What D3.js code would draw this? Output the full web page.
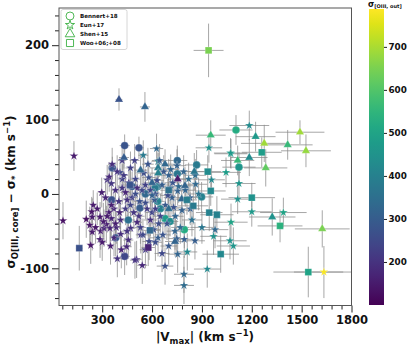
<!DOCTYPE html>
<html>
<head>
<meta charset="utf-8">
<script src="https://cdn.jsdelivr.net/npm/d3@7"></script>
<style>
body { margin: 0; background: #fff; }
text { font-family: "DejaVu Sans", sans-serif; font-weight: bold; fill: #111; }
</style>
</head>
<body>
<svg id="chart" width="407" height="346"></svg>
<script>
// each row: [|Vmax|, sigma_core - sigma_star, err on Vmax, err on dsigma, sigma_out]
var bennert = [
  [435, 65, 30, 15, 280], [521, 62, 30, 15, 280], [361, 35, 25, 15, 280],
  [752, 45, 60, 20, 330], [868, 39, 70, 20, 380], [1105, 86, 100, 20, 520],
  [1123, 36, 100, 20, 460], [752, 27, 60, 20, 370], [898, -4, 70, 20, 400],
  [634, 10, 50, 20, 380], [634, -10, 50, 20, 400], [794, -48, 60, 25, 520],
  [678, -33, 50, 20, 480], [708, -37, 50, 20, 430], [435, -84, 30, 25, 250],
  [381, -59, 30, 25, 280], [357, -8, 30, 25, 270], [457, -35, 40, 25, 350],
  [527, -19, 40, 25, 300], [618, 8, 50, 20, 380], [560, 0, 40, 20, 330],
  [480, 10, 40, 20, 300], [650, -20, 50, 20, 400]
];
var eun = [
  [130, 51, 10, 20, 150], [547, 52, 30, 20, 380], [407, 29, 25, 20, 250],
  [421, 20, 25, 20, 230], [330, 19, 20, 20, 200], [355, 14, 20, 20, 210],
  [627, 61, 40, 20, 330], [636, 44, 40, 20, 400], [712, 33, 50, 20, 320],
  [1185, 92, 120, 20, 430], [942, 62, 80, 20, 450], [1075, 54, 100, 20, 470],
  [1045, 29, 90, 20, 480], [1123, 14, 100, 20, 460], [1115, -7, 100, 20, 450],
  [1200, -24, 120, 20, 470], [958, 19, 80, 20, 420], [862, 13, 70, 20, 330],
  [754, 4, 60, 20, 310], [828, -5, 70, 20, 300], [794, -61, 60, 25, 300],
  [858, -63, 60, 25, 300], [812, -78, 60, 25, 420], [754, -81, 60, 25, 320],
  [678, -97, 50, 25, 270], [932, -101, 80, 25, 420], [792, -108, 60, 25, 330],
  [792, -123, 60, 25, 340], [979, -48, 80, 25, 330], [970, -57, 80, 25, 450],
  [1075, -38, 100, 25, 500], [1069, -63, 100, 25, 450], [1089, -70, 100, 25, 460],
  [738, -50, 50, 25, 320], [636, -59, 50, 25, 300], [1390, -25, 140, 20, 500],
  [1634, -105, 180, 35, 780], [64, -36, 10, 25, 130], [204, -34, 15, 25, 130],
  [240, -31, 15, 25, 150], [225, -42, 15, 25, 140], [240, -51, 15, 25, 150],
  [231, -69, 15, 25, 140], [287, -61, 20, 25, 160], [291, -50, 20, 25, 160],
  [311, -46, 20, 25, 170], [325, -41, 20, 25, 160], [307, -37, 20, 25, 150],
  [355, -33, 20, 25, 170], [371, -59, 25, 25, 180], [391, -87, 25, 25, 200],
  [507, -88, 30, 25, 200], [541, -96, 30, 25, 180], [457, -62, 30, 25, 190],
  [447, -71, 30, 25, 180], [411, -54, 25, 25, 190], [532, -55, 30, 25, 220],
  [582, -64, 40, 25, 250], [471, -46, 30, 25, 200], [342, 23, 20, 20, 180],
  [297, 2, 20, 20, 160], [246, -15, 15, 20, 150], [237, -24, 15, 20, 140],
  [287, -31, 20, 20, 150], [347, -46, 20, 25, 170], [497, -89, 30, 25, 200],
  [748, -60, 50, 25, 300], [1072, 55, 100, 20, 470],
  [380, 5, 25, 22, 190], [400, -10, 25, 22, 200], [420, 8, 25, 22, 210],
  [440, -20, 30, 22, 220], [460, 15, 30, 22, 200], [480, -5, 30, 22, 230],
  [500, 20, 30, 22, 240], [520, -30, 35, 22, 210], [540, 5, 35, 22, 250],
  [560, -12, 35, 22, 260], [580, 22, 40, 22, 270], [600, -25, 40, 22, 240],
  [620, 0, 40, 22, 280], [640, -40, 45, 22, 260], [660, 12, 45, 22, 300],
  [680, -15, 45, 22, 290], [700, 25, 50, 22, 310], [720, -5, 50, 22, 300],
  [740, -30, 50, 22, 320], [760, 10, 55, 22, 330], [780, -22, 55, 22, 310],
  [820, 20, 60, 22, 340], [840, -35, 60, 22, 350], [880, 0, 65, 22, 360],
  [900, -45, 70, 22, 370], [370, -20, 25, 22, 180], [390, 30, 25, 22, 200],
  [410, -35, 25, 22, 190], [430, 25, 25, 22, 220], [450, -8, 30, 22, 200],
  [470, 35, 30, 22, 230], [490, -25, 30, 22, 210], [510, 8, 30, 22, 190],
  [530, -45, 35, 22, 230], [550, 28, 35, 22, 260], [570, -20, 35, 22, 220],
  [590, 5, 40, 22, 250], [610, -48, 40, 22, 280], [630, 18, 40, 22, 260],
  [650, -30, 45, 22, 240], [670, 30, 45, 22, 290], [690, -40, 45, 22, 280],
  [710, 8, 50, 22, 300], [730, -18, 50, 22, 270], [750, 38, 55, 22, 310],
  [770, -45, 55, 22, 330], [800, 5, 60, 22, 320], [830, -20, 60, 22, 300],
  [860, 25, 65, 22, 340], [320, -5, 20, 22, 170], [340, -25, 20, 22, 160],
  [360, 40, 25, 22, 190], [385, -45, 25, 22, 180], [420, 45, 25, 22, 220],
  [450, -50, 30, 22, 200], [495, 45, 30, 22, 230], [525, -10, 35, 22, 270],
  [545, -55, 35, 22, 250], [575, 40, 35, 22, 280], [615, -8, 40, 22, 290],
  [645, 45, 45, 22, 300], [665, -55, 45, 22, 280], [695, -2, 45, 22, 260],
  [725, 15, 50, 22, 280], [790, 30, 55, 22, 320], [470, -15, 30, 22, 240],
  [500, 0, 30, 22, 260], [560, 12, 35, 22, 230], [600, -2, 40, 22, 310],
  [440, 2, 30, 22, 170], [510, -38, 30, 22, 180], [590, -35, 40, 22, 200],
  [620, -20, 40, 22, 230], [405, -25, 25, 22, 170], [355, -15, 20, 22, 160],
  [330, -30, 20, 22, 150], [270, -20, 20, 22, 150], [260, -45, 15, 22, 140],
  [300, -65, 20, 25, 150], [350, -70, 20, 25, 160], [415, -75, 25, 25, 170],
  [380, -40, 25, 22, 160], [560, -75, 35, 25, 220], [620, -65, 40, 25, 260],
  [660, -80, 45, 25, 250], [700, -70, 50, 25, 290]
];
var shen = [
  [401, 127, 20, 15, 280], [557, 117, 30, 20, 320], [431, 49, 30, 15, 300],
  [531, 32, 40, 20, 330], [636, 35, 50, 20, 380], [953, 79, 90, 20, 560],
  [1115, 45, 100, 20, 560], [1185, 49, 110, 25, 430], [854, 30, 80, 25, 370],
  [754, 20, 60, 20, 150], [678, 40, 60, 20, 330], [798, 11, 60, 25, 320],
  [778, -7, 60, 20, 330], [738, -64, 60, 20, 320], [1490, 83, 147, 16, 690],
  [1526, 58, 150, 22, 680], [1275, 68, 140, 25, 690], [1416, 66, 150, 20, 560],
  [1223, 77, 120, 20, 470], [1284, 35, 130, 25, 620], [1323, -31, 140, 25, 450],
  [1624, -47, 165, 25, 650], [637, 28, 50, 20, 400], [600, 15, 50, 20, 320],
  [700, -20, 60, 20, 340]
];
var woo = [
  [940, 193, 90, 36, 650], [1260, 56, 120, 20, 480], [1200, -5, 140, 20, 450],
  [1370, -43, 135, 22, 540], [1540, -105, 210, 34, 500], [935, 30, 80, 22, 430],
  [953, 4, 90, 20, 420], [1013, -81, 110, 25, 420], [990, -28, 100, 25, 400],
  [848, -16, 90, 25, 380], [944, -25, 80, 25, 400], [162, -73, 20, 30, 270],
  [577, -72, 40, 25, 170], [587, -49, 60, 25, 330], [467, 12, 50, 25, 280],
  [700, 5, 50, 20, 350], [810, -8, 60, 20, 390]
];
var legendNames = ["Bennert+18", "Eun+17", "Shen+15", "Woo+06;+08"];
var xTicks = [300, 600, 900, 1200, 1500, 1800];
var yTicks = [-100, 0, 100, 200];
var cbarTicks = [200, 300, 400, 500, 600, 700];

var margin = {top: 8, left: 59},
    width = 292.5,
    height = 297.5;

var svg = d3.select("#chart");
var g = svg.append("g").attr("transform", "translate(" + margin.left + "," + margin.top + ")");

var x = d3.scaleLinear().domain([40, 1800]).range([0, width]);
var y = d3.scaleLinear().domain([-150, 250]).range([height, 0]);
var color = d3.scaleSequential(d3.interpolateViridis).domain([100, 788]);

svg.append("defs").append("clipPath").attr("id", "clip")
  .append("rect").attr("width", width).attr("height", height);

var sets = [
  {rows: bennert, type: d3.symbolCircle, size: 46},
  {rows: eun, type: d3.symbolStar, size: 24},
  {rows: shen, type: d3.symbolTriangle, size: 30},
  {rows: woo, type: d3.symbolSquare, size: 46}
];

var plot = g.append("g").attr("clip-path", "url(#clip)");

// error bars first
sets.forEach(function(s) {
  var eb = plot.append("g").attr("stroke", "#8a8a8a").attr("stroke-width", 1).attr("stroke-opacity", 0.75);
  eb.selectAll(".h").data(s.rows).enter().append("line")
    .attr("x1", function(d) { return x(d[0] - d[2]); })
    .attr("x2", function(d) { return x(d[0] + d[2]); })
    .attr("y1", function(d) { return y(d[1]); })
    .attr("y2", function(d) { return y(d[1]); });
  eb.selectAll(".v").data(s.rows).enter().append("line")
    .attr("x1", function(d) { return x(d[0]); })
    .attr("x2", function(d) { return x(d[0]); })
    .attr("y1", function(d) { return y(d[1] - d[3]); })
    .attr("y2", function(d) { return y(d[1] + d[3]); });
});

sets.forEach(function(s) {
  plot.append("g").selectAll("path").data(s.rows).enter().append("path")
    .attr("d", d3.symbol().type(s.type).size(s.size))
    .attr("transform", function(d) { return "translate(" + x(d[0]) + "," + y(d[1]) + ")"; })
    .attr("fill", function(d) { return color(d[4]); })
    .attr("stroke", "#fff")
    .attr("stroke-opacity", 0.45)
    .attr("stroke-width", 0.5);
});

// axes
g.append("g").attr("transform", "translate(0," + height + ")")
  .call(d3.axisBottom(x).tickValues(xTicks).tickSize(7).tickPadding(3).tickFormat(d3.format("d")));
g.append("g").attr("transform", "translate(0," + height + ")")
  .call(d3.axisBottom(x).tickValues(d3.range(60, 1800, 60).filter(function(v) { return v % 300 != 0; })).tickSize(4).tickFormat(""));
g.append("g")
  .call(d3.axisLeft(y).tickValues(yTicks).tickSize(7).tickPadding(3).tickFormat(function(d) { return d < 0 ? "-" + Math.abs(d) : d; }));
g.append("g")
  .call(d3.axisLeft(y).tickValues(d3.range(-140, 250, 20).filter(function(v) { return v % 100 != 0; })).tickSize(4).tickFormat(""));
g.selectAll(".domain").remove();
g.selectAll(".tick line").attr("stroke", "#222").attr("stroke-width", 1);
g.selectAll(".tick text").style("font-size", "11.5px").style("font-family", "DejaVu Sans").style("font-weight", "bold").attr("fill", "#111");

g.append("rect").attr("width", width).attr("height", height)
  .attr("fill", "none").attr("stroke", "#555").attr("stroke-width", 1);

// axis labels
var xl = svg.append("text").attr("x", 205).attr("y", 341).attr("text-anchor", "middle").style("font-size", "12px");
xl.append("tspan").text("|V");
xl.append("tspan").attr("dy", 3).style("font-size", "8.5px").text("max");
xl.append("tspan").attr("dy", -3).text("| (km s");
xl.append("tspan").attr("dy", -5).style("font-size", "8.5px").text("\u22121");
xl.append("tspan").attr("dy", 5).text(")");

var yl = svg.append("text").attr("transform", "translate(15,192) rotate(-90)").attr("text-anchor", "middle").style("font-size", "12px");
yl.append("tspan").text("\u03c3");
yl.append("tspan").attr("dy", 3).style("font-size", "8.5px").text("O[III, core]");
yl.append("tspan").attr("dy", -3).text(" \u2212 \u03c3");
yl.append("tspan").attr("dy", 3).style("font-size", "8.5px").text("*");
yl.append("tspan").attr("dy", -3).text(" (km s");
yl.append("tspan").attr("dy", -5).style("font-size", "8.5px").text("\u22121");
yl.append("tspan").attr("dy", 5).text(")");

// legend
var lg = g.append("g").attr("transform", "translate(2,1.5)");
lg.append("rect").attr("width", 66).attr("height", 40).attr("rx", 2)
  .attr("fill", "#fff").attr("fill-opacity", 0.85).attr("stroke", "#ccc").attr("stroke-width", 0.8);
var lgTypes = [d3.symbolCircle, d3.symbolStar, d3.symbolTriangle, d3.symbolSquare];
var lgSizes = [50, 26, 40, 50];
legendNames.forEach(function(name, i) {
  var row = lg.append("g").attr("transform", "translate(9," + (6.5 + i * 9) + ")");
  row.append("path").attr("d", d3.symbol().type(lgTypes[i]).size(lgSizes[i]))
    .attr("fill", "none").attr("stroke", "#3cb043").attr("stroke-width", 0.9);
  row.append("text").attr("x", 10).attr("y", 2).style("font-size", "5.6px").text(name);
});

// colorbar
var cbX = 369, cbY = 9, cbW = 15, cbH = 296;
var grad = svg.select("defs").append("linearGradient").attr("id", "viridis")
  .attr("x1", 0).attr("y1", 1).attr("x2", 0).attr("y2", 0);
d3.range(0, 1.0001, 0.05).forEach(function(t) {
  grad.append("stop").attr("offset", t).attr("stop-color", d3.interpolateViridis(t));
});
svg.append("rect").attr("x", cbX).attr("y", cbY).attr("width", cbW).attr("height", cbH).attr("fill", "url(#viridis)");
var cbScale = d3.scaleLinear().domain([100, 788]).range([cbY + cbH, cbY]);
var cbAxis = svg.append("g").attr("transform", "translate(" + (cbX + cbW) + ",0)")
  .call(d3.axisRight(cbScale).tickValues(cbarTicks).tickSize(3).tickPadding(1.5));
cbAxis.select(".domain").remove();
cbAxis.selectAll(".tick line").attr("stroke", "#222");
cbAxis.selectAll(".tick text").style("font-size", "8.8px").style("font-family", "DejaVu Sans").style("font-weight", "bold").attr("fill", "#111");

var ct = svg.append("text").attr("x", 368).attr("y", 6.5).style("font-size", "8px");
ct.append("tspan").text("\u03c3");
ct.append("tspan").attr("dy", 1.2).style("font-size", "5px").text("[OIII, out]");
</script>
</body>
</html>
